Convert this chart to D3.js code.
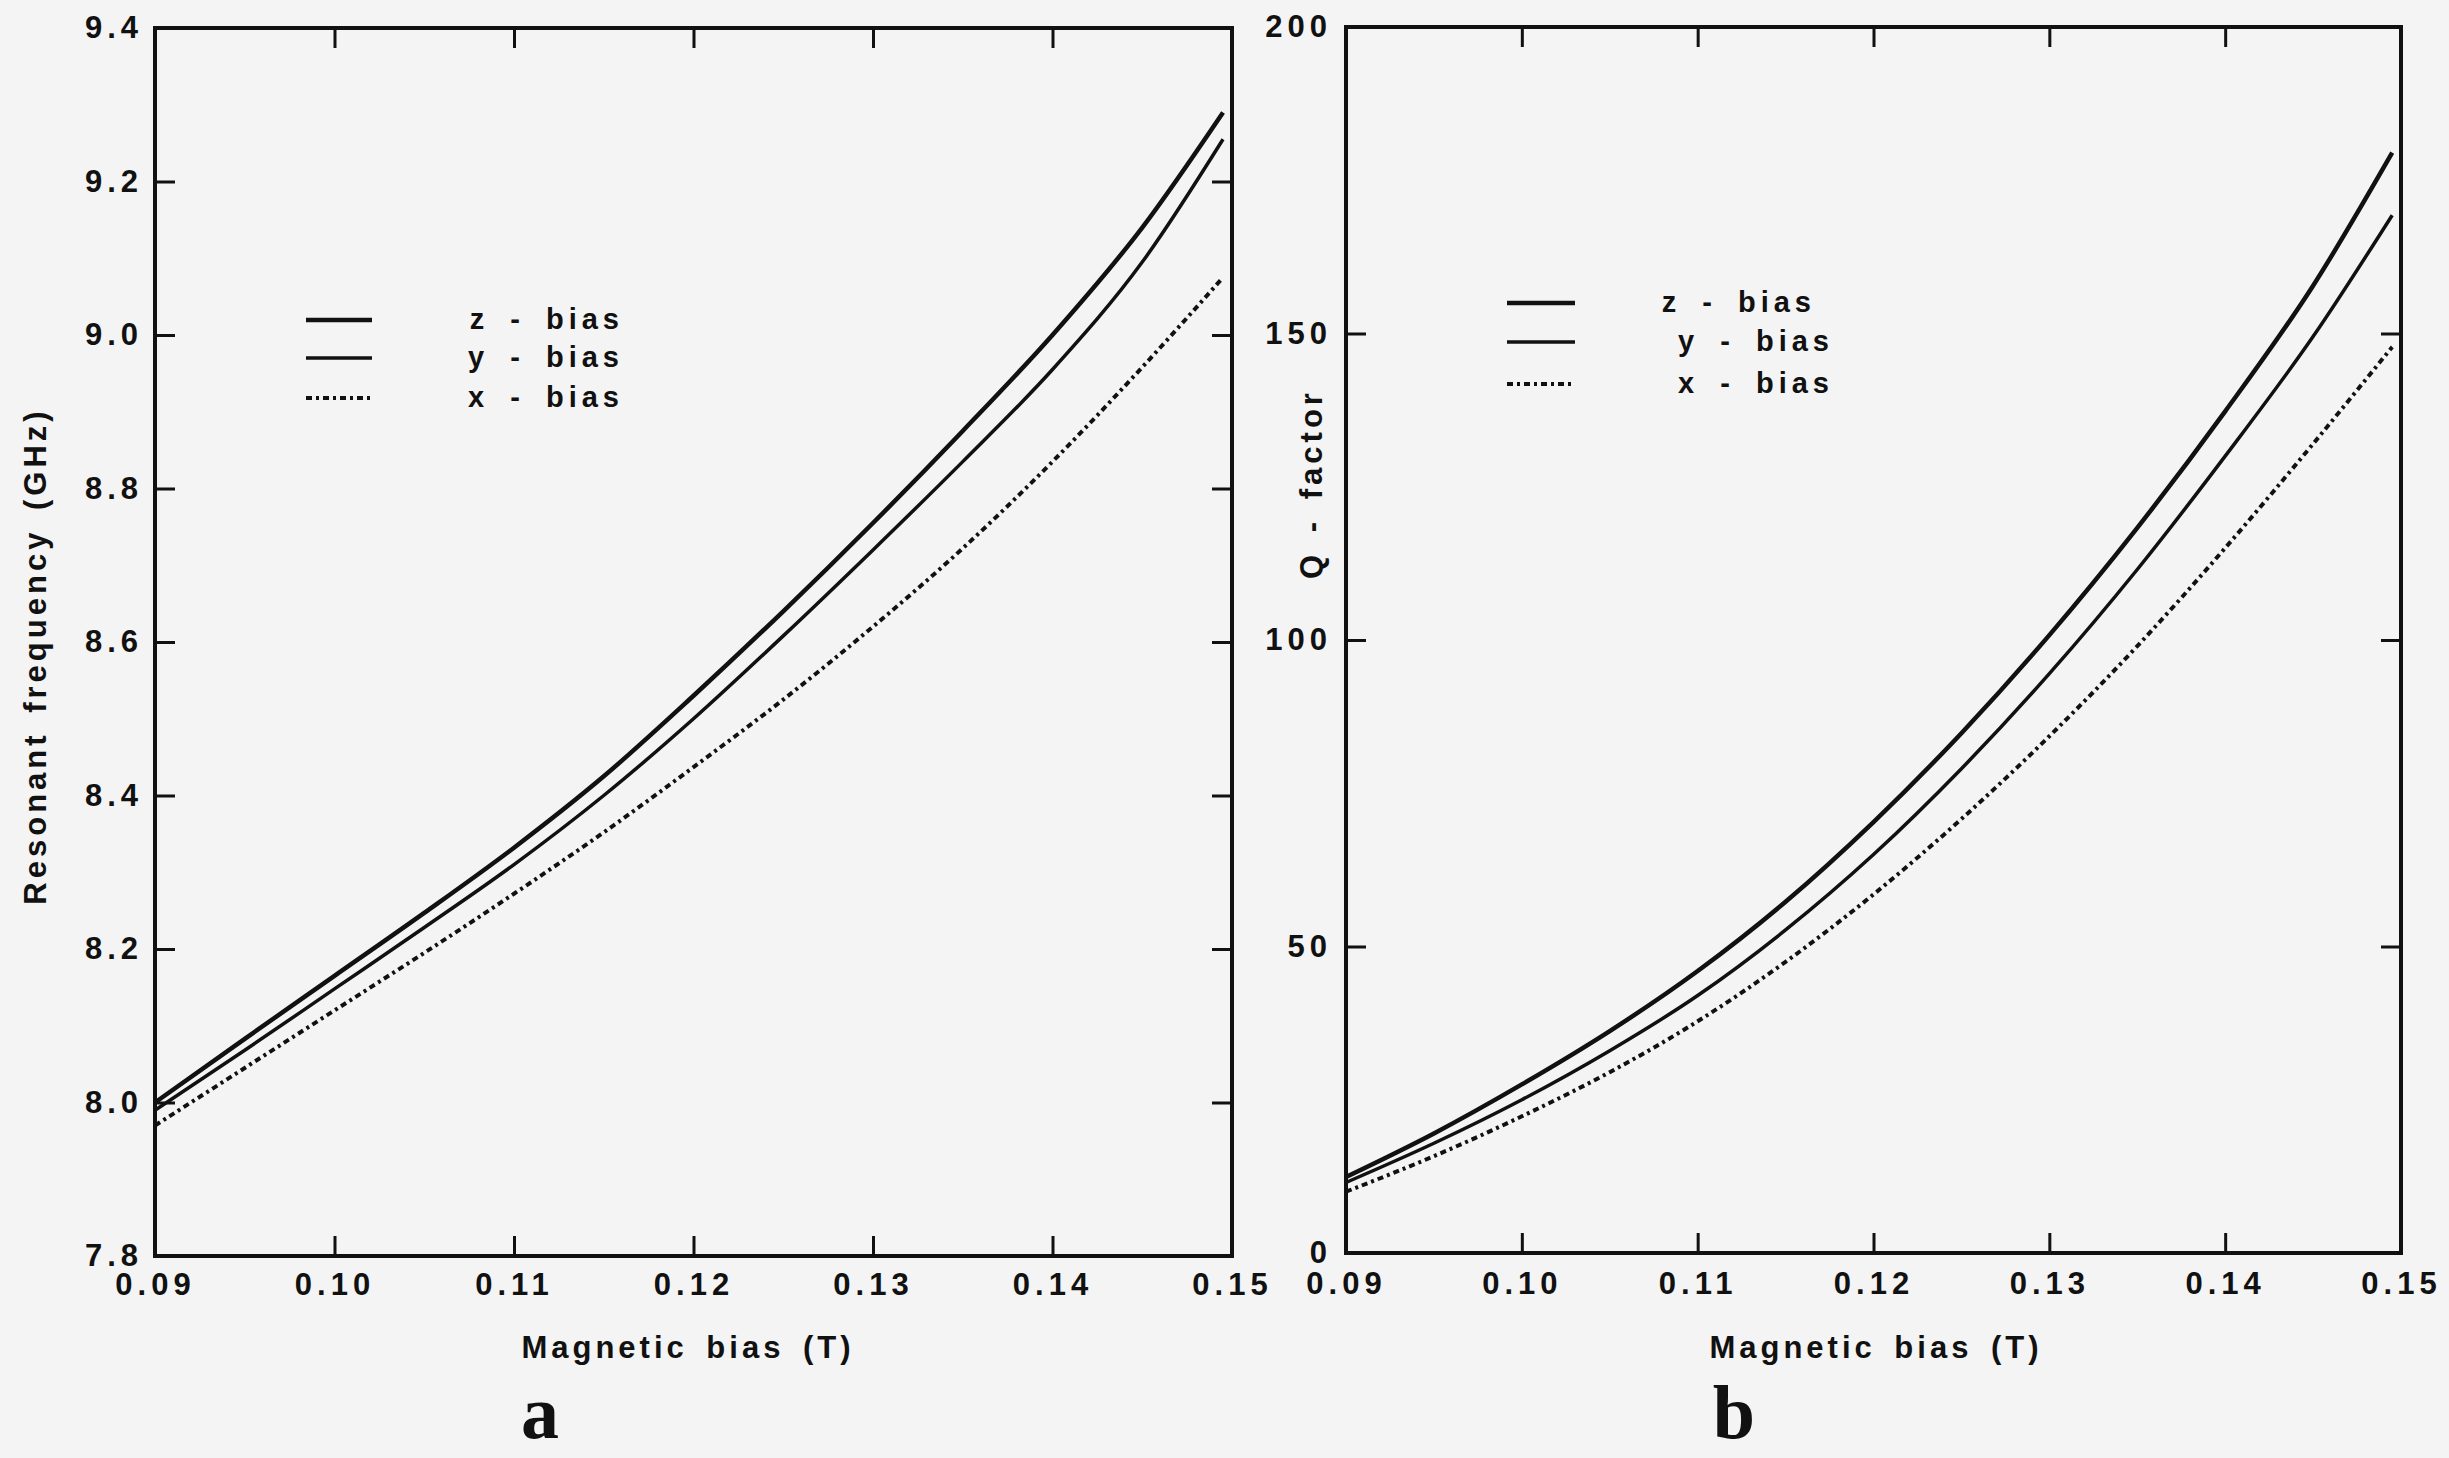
<!DOCTYPE html>
<html lang="en">
<head>
  <meta charset="UTF-8">
  <title>Resonant frequency and Q-factor vs magnetic bias</title>
  <style>
    body { margin: 0; background: #f4f4f4; }
    svg { display: block; }
    text { font-family: "Liberation Sans", Arial, sans-serif; font-weight: bold; fill: #111; }
    .tick text { font-size: 31px; letter-spacing: 5px; }
    .tick line { stroke: #111; stroke-width: 3px; }
    .title { font-size: 31px; letter-spacing: 4px; word-spacing: 6px; }
    .legend text { font-size: 29px; letter-spacing: 5px; word-spacing: 8px; }
    .letter { font-family: "Liberation Serif", "Times New Roman", serif; font-size: 76px; letter-spacing: 0; }
  </style>
</head>
<body>
  <svg id="chart" width="2449" height="1458"></svg>

  <script src="https://d3js.org/d3.v7.min.js"></script>
  <script>
    // Magnetic bias (T) at which the curves were read
    const bias = [0.09, 0.095, 0.10, 0.105, 0.11, 0.115, 0.12, 0.125, 0.13, 0.135, 0.14, 0.145, 0.1495];

    // panel a: resonant frequency (GHz)
    const freqZ = [8.00, 8.083, 8.165, 8.247, 8.332, 8.425, 8.53, 8.64, 8.755, 8.875, 9.0, 9.14, 9.29];
    const freqY = [7.99, 8.068, 8.148, 8.228, 8.31, 8.40, 8.50, 8.608, 8.72, 8.835, 8.955, 9.095, 9.255];
    const freqX = [7.97, 8.045, 8.12, 8.195, 8.272, 8.352, 8.437, 8.525, 8.62, 8.722, 8.835, 8.958, 9.075];

    // panel b: Q - factor
    const qZ = [12.4, 19.5, 27.5, 36.2, 46.0, 57.3, 70.3, 84.8, 100.8, 118.3, 137.3, 157.8, 179.5];
    const qY = [11.5, 17.9, 25.0, 33.0, 42.0, 52.7, 65.0, 79.0, 94.5, 111.5, 130.0, 149.5, 169.3];
    const qX = [10, 15.8, 22.3, 29.5, 37.8, 47.5, 58.5, 70.8, 84.3, 99, 115, 132, 147.8];

    const seriesNames = ["z - bias", "y - bias", "x - bias"];
    const xTicks = [0.09, 0.10, 0.11, 0.12, 0.13, 0.14, 0.15];
    const freqTicks = [7.8, 8.0, 8.2, 8.4, 8.6, 8.8, 9.0, 9.2, 9.4];
    const qTicks = [0, 50, 100, 150, 200];

    // line look per series: z thick, y medium, x dash-dot
    const styles = [
      { width: 4.5, dash: null },
      { width: 3.5, dash: null },
      { width: 4, dash: "6,4,3,4" }
    ];

    const svg = d3.select("#chart");

    function drawPanel(p) {
      const x = d3.scaleLinear().domain([0.09, 0.15]).range([p.left, p.right]);
      const y = d3.scaleLinear().domain(p.yDomain).range([p.bottom, p.top]);
      const g = svg.append("g");

      // inward ticks on all four sides
      g.append("g")
        .attr("transform", `translate(0,${p.bottom})`)
        .call(d3.axisBottom(x).tickValues(xTicks).tickFormat(d3.format(".2f"))
          .tickSize(-20).tickPadding(p.xPad))
        .call(a => a.select(".domain").remove());
      g.append("g")
        .attr("transform", `translate(0,${p.top})`)
        .call(d3.axisTop(x).tickValues(xTicks).tickFormat("").tickSize(-20))
        .call(a => a.select(".domain").remove());
      g.append("g")
        .attr("transform", `translate(${p.left},0)`)
        .call(d3.axisLeft(y).tickValues(p.yTicks).tickFormat(p.yFormat)
          .tickSize(-20).tickPadding(p.yPad))
        .call(a => a.select(".domain").remove());
      g.append("g")
        .attr("transform", `translate(${p.right},0)`)
        .call(d3.axisRight(y).tickValues(p.yTicks).tickFormat("").tickSize(-20))
        .call(a => a.select(".domain").remove());

      g.selectAll(".tick text").attr("fill", "#111").attr("font-family", null).attr("font-size", null);

      g.append("rect")
        .attr("x", p.left).attr("y", p.top)
        .attr("width", p.right - p.left).attr("height", p.bottom - p.top)
        .attr("fill", "none").attr("stroke", "#111").attr("stroke-width", 4);

      const line = d3.line()
        .x((d, i) => x(bias[i]))
        .y(d => y(d))
        .curve(d3.curveMonotoneX);

      p.series.forEach((s, i) => {
        g.append("path")
          .datum(s)
          .attr("d", line)
          .attr("fill", "none")
          .attr("stroke", "#111")
          .attr("stroke-width", styles[i].width)
          .attr("stroke-dasharray", styles[i].dash);
      });

      // legend
      const lg = g.append("g").attr("class", "legend");
      seriesNames.forEach((name, i) => {
        lg.append("line")
          .attr("x1", p.legend.x1).attr("x2", p.legend.x2)
          .attr("y1", p.legend.rows[i]).attr("y2", p.legend.rows[i])
          .attr("stroke", "#111")
          .attr("stroke-width", styles[i].width)
          .attr("stroke-dasharray", styles[i].dash);
        lg.append("text")
          .attr("x", p.legend.textEnd[i])
          .attr("y", p.legend.rows[i] + 9)
          .attr("text-anchor", "end")
          .text(name);
      });

      g.append("text").attr("class", "title")
        .attr("x", p.xTitle).attr("y", 1358)
        .attr("text-anchor", "middle")
        .text("Magnetic bias (T)");

      g.append("text").attr("class", "title")
        .attr("transform", `translate(${p.yTitle[0]},${p.yTitle[1]}) rotate(-90)`)
        .attr("text-anchor", "middle")
        .text(p.yLabel);

      g.append("text").attr("class", "letter")
        .attr("x", p.letter[0]).attr("y", p.letter[1])
        .attr("text-anchor", "middle")
        .text(p.letterText);
    }

    drawPanel({
      left: 155, right: 1232, top: 28, bottom: 1256,
      yDomain: [7.8, 9.4], yTicks: freqTicks, yFormat: d3.format(".1f"),
      xPad: 17, yPad: 12,
      series: [freqZ, freqY, freqX],
      legend: { x1: 306, x2: 372, rows: [320, 358, 398], textEnd: [624, 624, 624] },
      xTitle: 688,
      yLabel: "Resonant frequency (GHz)", yTitle: [46, 656],
      letter: [540, 1438], letterText: "a"
    });

    drawPanel({
      left: 1346, right: 2401, top: 27, bottom: 1253,
      yDomain: [0, 200], yTicks: qTicks, yFormat: d3.format("d"),
      xPad: 19, yPad: 14,
      series: [qZ, qY, qX],
      legend: { x1: 1507, x2: 1575, rows: [303, 342, 384], textEnd: [1816, 1834, 1834] },
      xTitle: 1876,
      yLabel: "Q - factor", yTitle: [1322, 484],
      letter: [1734, 1438], letterText: "b"
    });
  </script>
</body>
</html>
